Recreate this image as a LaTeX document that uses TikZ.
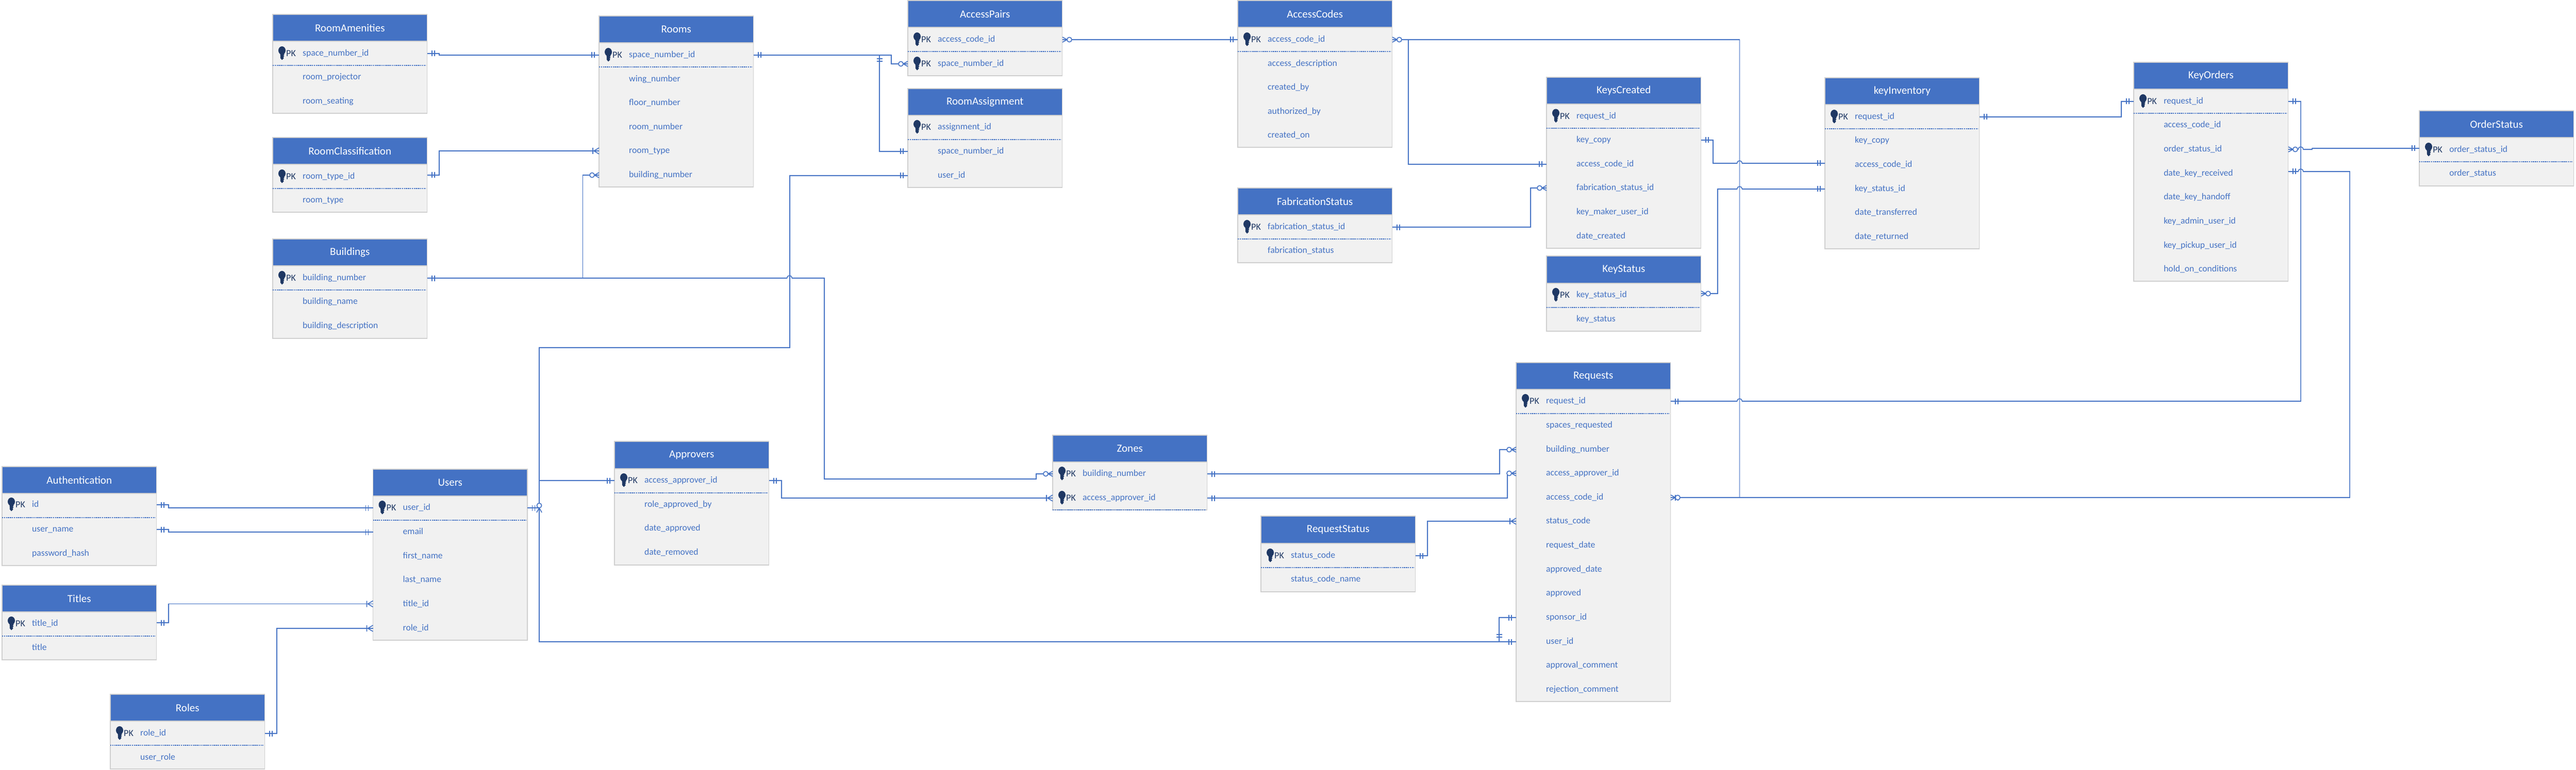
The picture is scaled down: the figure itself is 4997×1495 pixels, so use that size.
\documentclass[tikz,border=0pt]{standalone}
\usepackage{fontspec}
\setmainfont{Carlito}
\catcode`\_=12
\definecolor{erblue}{HTML}{4472C4}
\definecolor{erline}{HTML}{4472C4}
\definecolor{erbody}{HTML}{F1F1F1}
\definecolor{eredge}{HTML}{CFCFCF}
\definecolor{erkey}{HTML}{1F3864}
\newcommand{\erfields}{\fontsize{17.6}{20}\selectfont}
\tikzset{
  x=1pt,y=-1pt,
  wire/.style={draw=erline,line width=1.6pt,line join=miter},
  mark line/.style={draw=erline,line width=1.6pt},
  hdr/.style={fill=erblue,draw=eredge,line width=1.2pt,inner sep=0pt,text=white,
     minimum width=299.5pt,font=\fontsize{21}{23}\selectfont},
  rowtxt/.style={anchor=west,inner sep=0pt,text width=299.5pt,align=left,text=erblue,
     minimum height=30pt,font=\erfields},
  pktxt/.style={anchor=west,inner sep=0pt,text=erkey,font=\fontsize{18}{20}\selectfont},
  bodybox/.style={fill=erbody,draw=eredge,line width=1.2pt},
  sep/.style={draw=erblue,line width=1.4pt,dash pattern=on 2.4pt off 1.4pt},
  erone/.pic={\draw[mark line] (9,-5.5)--(9,5.5) (14,-5.5)--(14,5.5);},
  erzm/.pic={\draw[mark line] (9,0)--(0,-5) (9,0)--(0,5);
             \draw[mark line,fill=white] (13.5,0) circle[radius=4.6pt];},
  erom/.pic={\draw[mark line] (10,0)--(0,-6) (10,0)--(0,6) (12,-6)--(12,6);},
  erkeyicon/.pic={\fill[erkey] (0,-6) ellipse[x radius=7pt,y radius=8pt];
     \fill[erkey] (-3.5,-2)--(3.5,-2)--(4.5,2)--(2.5,3.5)--(4.5,5)--(2.5,6.5)--(3.5,9)--(0,12.5)--(-3,9)--cycle;},
}
% name, title, left, top, header bottom, bottom, separator y, rows y/text/pk
\newcommand{\ertable}[8]{%
  \path[bodybox] (#3,#5) rectangle ++(299.5,#6-#5);
  \node[hdr,minimum height=#5pt-#4pt] (#1) at (#3+149.75,#4/2+#5/2) {#2};
  \foreach \ry/\rt/\rk [count=\ri] in {#8}{%
    \node[rowtxt] (#1-\ri) at (#3,\ry) {\hspace*{58pt}\raisebox{-1pt}{\vphantom{Agy_}\rt}};
    \ifnum\rk=1
      \pic at (#3+18,\ry) {erkeyicon};
      \node[pktxt] (#1-\ri-pk) at (#3+26,\ry) {PK};
    \fi
  }
  \draw[sep] (#3,#7) -- ++(297,0);
}
\begin{document}
\begin{tikzpicture}
\useasboundingbox (0,0) rectangle (4997,1495);
\fill[white] (0,0) rectangle (4997,1495);
\ertable{RA}{RoomAmenities}{529}{28}{80}{220}{127}{104/space_number_id/1,150/room_projector/0,197/room_seating/0}
\ertable{RC}{RoomClassification}{529}{267}{319}{412}{366}{343/room_type_id/1,389/room_type/0}
\ertable{BU}{Buildings}{529}{464}{516}{657}{563}{540/building_number/1,586/building_name/0,633/building_description/0}
\ertable{RO}{Rooms}{1162}{31}{83}{363}{130}{107/space_number_id/1,154/wing_number/0,200/floor_number/0,247/room_number/0,293/room_type/0,340/building_number/0}
\ertable{AP}{AccessPairs}{1761}{1}{53}{147}{100}{77/access_code_id/1,124/space_number_id/1}
\ertable{RS}{RoomAssignment}{1761}{172}{224}{364}{271}{247/assignment_id/1,294/space_number_id/0,341/user_id/0}
\ertable{AC}{AccessCodes}{2401}{1}{53}{286}{100}{77/access_code_id/1,124/access_description/0,170/created_by/0,217/authorized_by/0,263/created_on/0}
\ertable{FS}{FabricationStatus}{2401}{365}{417}{510}{464}{441/fabrication_status_id/1,487/fabrication_status/0}
\ertable{KC}{KeysCreated}{3000}{150}{202}{482}{249}{225.5/request_id/1,272/key_copy/0,319/access_code_id/0,365/fabrication_status_id/0,412/key_maker_user_id/0,459/date_created/0}
\ertable{KS}{KeyStatus}{3000}{497}{550}{643}{597}{573/key_status_id/1,620/key_status/0}
\ertable{KI}{keyInventory}{3540}{151}{203}{483}{250}{227/request_id/1,273/key_copy/0,320/access_code_id/0,367/key_status_id/0,413/date_transferred/0,460/date_returned/0}
\ertable{KO}{KeyOrders}{4139}{121}{173}{546}{220}{197/request_id/1,243/access_code_id/0,290/order_status_id/0,337/date_key_received/0,383/date_key_handoff/0,430/key_admin_user_id/0,477/key_pickup_user_id/0,523/hold_on_conditions/0}
\ertable{OS}{OrderStatus}{4693}{215}{267}{361}{314}{291/order_status_id/1,337/order_status/0}
\ertable{AU}{Authentication}{4}{906}{958}{1098}{1005}{980/id/1,1028/user_name/0,1075/password_hash/0}
\ertable{TI}{Titles}{4}{1136}{1188}{1281}{1235}{1211/title_id/1,1258/title/0}
\ertable{RL}{Roles}{214}{1348}{1400}{1493}{1447}{1424/role_id/1,1471/user_role/0}
\ertable{US}{Users}{723.5}{911}{963}{1243}{1010}{986/user_id/1,1033/email/0,1080/first_name/0,1126/last_name/0,1172.5/title_id/0,1220/role_id/0}
\ertable{AV}{Approvers}{1192}{857}{910}{1097}{957}{933/access_approver_id/1,980/role_approved_by/0,1026/date_approved/0,1073/date_removed/0}
\ertable{ZO}{Zones}{2042}{845}{897}{990}{990}{920/building_number/1,967/access_approver_id/1}
\ertable{RT}{RequestStatus}{2446}{1002}{1055}{1149}{1102}{1079/status_code/1,1125/status_code_name/0}
\ertable{RQ}{Requests}{2941}{704}{756}{1362}{803}{779/request_id/1,825.5/spaces_requested/0,873/building_number/0,919/access_approver_id/0,966/access_code_id/0,1012/status_code/0,1059/request_date/0,1106/approved_date/0,1152/approved/0,1199/sponsor_id/0,1246/user_id/0,1292/approval_comment/0,1339/rejection_comment/0}
% junction coordinates
\coordinate (bA) at (1130.5,540);
\coordinate (bB) at (1531.5,540);
\coordinate (bC) at (1599,930);
\coordinate (bD) at (2010,930);
\coordinate (rA) at (1729,107);
\coordinate (rB) at (1706,107);
\coordinate (rC) at (1706,128);
\coordinate (uA) at (1532,341);
\coordinate (uB) at (1532,675);
\coordinate (uC) at (1046,675);
\coordinate (uD) at (1046,1246);
\coordinate (uE) at (1046,933);
\coordinate (uF) at (1046,986);
\coordinate (uG) at (1046,995);
\coordinate (sA) at (2908,1199);
\coordinate (sB) at (2908,1246);
\coordinate (zA) at (2909,920);
\coordinate (zB) at (2924,967);
\coordinate (qA) at (3374.5,779);
\coordinate (qB) at (4463,779);
\coordinate (qC) at (4463,197);
\coordinate (cA) at (4558,966);
\coordinate (cB) at (4558,333);
\coordinate (cC) at (4463,333);
\coordinate (aA) at (3374.5,77);
\coordinate (aB) at (3374.5,966);
\coordinate (aC) at (2732,77);
\coordinate (kA) at (3323,272);
\coordinate (kB) at (3374.5,317);
\coordinate (kC) at (3332,570);
\coordinate (kD) at (3374.5,367);
\coordinate (fA) at (2969,441);
\coordinate (iA) at (4115,227);
\coordinate (oA) at (4463,290);
\coordinate (oB) at (4485,290);
% connectors
\draw[wire] (RA-1.east) -- ++(23,0) |- (RO-1.west);
\draw[wire] ([yshift=3pt]RC-1.east) -- ++(23,0) |- (RO-5.west);
\draw[wire] (BU-1.east) -- ([xshift=-5pt]bB) arc[start angle=180,end angle=0,radius=5pt] -| (bC) -- (bD) |- (ZO-1.west);
\draw[wire] (bA) |- (RO-6.west);
\draw[wire] (RO-1.east) -- (rA) |- (AP-2.west);
\draw[wire] (rB) |- (RS-2.west);
\draw[wire] (AP-1.east) -- (AC-1.west);
\draw[wire] (RS-3.west) -- (uA) -- (uB) -- (uC) -- (uD) -- (RQ-11.west);
\draw[wire] (US-1.east) -- (uF);
\draw[wire] (uE) -- (AV-1.west);
\draw[wire] (RQ-10.west) -- (sA) -- (sB);
\draw[wire] (AV-1.east) -- ++(24,0) |- (ZO-2.west);
\draw[wire] (ZO-1.east) -- (zA) |- (RQ-3.west);
\draw[wire] (ZO-2.east) -- (zB) |- (RQ-4.west);
\draw[wire] (RT-1.east) -- ++(23,0) |- (RQ-6.west);
\draw[wire] (RQ-1.east) -- ([xshift=-5pt]qA) arc[start angle=180,end angle=0,radius=5pt] -- (qB) -- (qC) -- (KO-1.east);
\draw[wire] (RQ-5.east) -- (cA) -- (cB) -- ([xshift=5pt]cC) arc[start angle=0,end angle=180,radius=5pt] -- ([yshift=4pt]KO-4.east);
\draw[wire] (AC-1.east) -- (aA) -- (aB);
\draw[wire] (aC) |- (KC-3.west);
\draw[wire] (KC-2.east) -- (kA) |- ([xshift=-5pt]kB) arc[start angle=180,end angle=0,radius=5pt] -- ([yshift=3pt]KI-3.west);
\draw[wire] ([yshift=3pt]KS-1.east) -- (kC) |- ([xshift=-5pt]kD) arc[start angle=180,end angle=0,radius=5pt] -- (KI-4.west);
\draw[wire] (FS-1.east) -- (fA) |- (KC-4.west);
\draw[wire] (KI-1.east) -- (iA) |- (KO-1.west);
\draw[wire] (KO-3.east) -- ([xshift=-5pt]oA) arc[start angle=180,end angle=0,radius=5pt] -- (oB) |- ([yshift=3pt]OS-1.west);
\draw[wire] (AU-1.east) -- ++(23,0) |- (US-1.west);
\draw[wire] (AU-2.east) -- ++(23,0) |- (US-2.west);
\draw[wire] ([yshift=2pt]TI-1.east) -- ++(23,0) |- (US-5.west);
\draw[wire] (RL-1.east) -- ++(23,0) |- (US-6.west);
% end marks
\pic at (RA-1.east) {erone};
\pic[rotate=180] at (RO-1.west) {erone};
\pic at ([yshift=3pt]RC-1.east) {erone};
\pic[rotate=180] at (RO-5.west) {erom};
\pic at (BU-1.east) {erone};
\pic[rotate=180] at (RO-6.west) {erzm};
\pic at (RO-1.east) {erone};
\pic[rotate=180] at (AP-2.west) {erzm};
\pic[rotate=90] at (rC) {erone};
\pic[rotate=180] at (RS-2.west) {erone};
\pic[rotate=180] at (RS-3.west) {erone};
\pic at (AP-1.east) {erzm};
\pic[rotate=180] at (AC-1.west) {erone};
\pic at (AC-1.east) {erzm};
\pic[rotate=180] at (KC-3.west) {erone};
\pic at (FS-1.east) {erone};
\pic[rotate=180] at (KC-4.west) {erzm};
\pic at (KC-2.east) {erone};
\pic at ([yshift=3pt]KS-1.east) {erzm};
\pic[rotate=180] at ([yshift=3pt]KI-3.west) {erone};
\pic[rotate=180] at (KI-4.west) {erone};
\pic at (KI-1.east) {erone};
\pic[rotate=180] at (KO-1.west) {erone};
\pic at (KO-1.east) {erone};
\pic at (KO-3.east) {erzm};
\pic at ([yshift=4pt]KO-4.east) {erone};
\pic[rotate=180] at ([yshift=3pt]OS-1.west) {erone};
\pic at (RQ-1.east) {erone};
\pic at (RQ-5.east) {erone};
\pic at (RQ-5.east) {erzm};
\pic[rotate=180] at (RQ-3.west) {erzm};
\pic[rotate=180] at (RQ-4.west) {erzm};
\pic[rotate=180] at (RQ-6.west) {erom};
\pic[rotate=180] at (RQ-10.west) {erone};
\pic[rotate=180] at (RQ-11.west) {erone};
\pic[rotate=90] at (sB) {erone};
\pic at (RT-1.east) {erone};
\pic at (ZO-1.east) {erone};
\pic at (ZO-2.east) {erone};
\pic[rotate=180] at (ZO-1.west) {erzm};
\pic[rotate=180] at (ZO-2.west) {erom};
\pic at (AV-1.east) {erone};
\pic[rotate=180] at (AV-1.west) {erone};
\pic at (US-1.east) {erone};
\pic[rotate=90] at (uG) {erzm};
\pic[rotate=180] at (US-1.west) {erone};
\pic[rotate=180] at (US-2.west) {erone};
\pic[rotate=180] at (US-5.west) {erom};
\pic[rotate=180] at (US-6.west) {erom};
\pic at (AU-1.east) {erone};
\pic at (AU-2.east) {erone};
\pic at ([yshift=2pt]TI-1.east) {erone};
\pic at (RL-1.east) {erone};
\end{tikzpicture}
\end{document}
